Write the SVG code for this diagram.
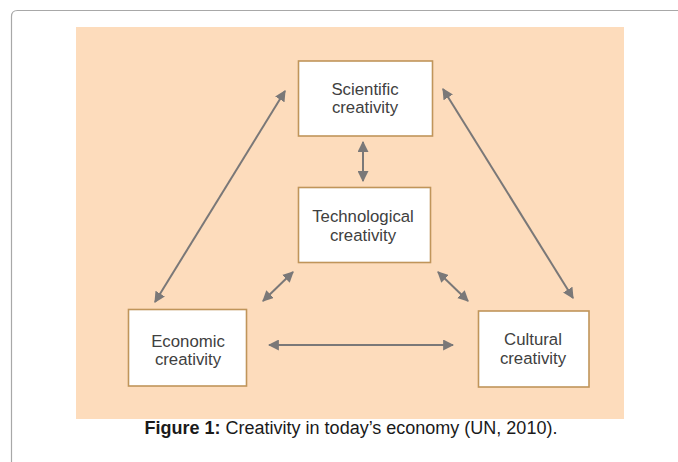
<svg xmlns="http://www.w3.org/2000/svg" width="678" height="462" viewBox="0 0 678 462">
<style>
.box{fill:#ffffff;stroke:#c0955a;stroke-width:1.6}
.lbl{font-family:"Liberation Sans",Arial,sans-serif;font-size:16.8px;fill:#404040;text-anchor:middle}
.conn{stroke:#7a7878;stroke-width:2;fill:none;marker-start:url(#ah);marker-end:url(#ah)}
.cap{font-family:"Liberation Sans",Arial,sans-serif;font-size:18px;fill:#1a1a1a}
</style>
<defs>
<marker id="ah" viewBox="0 0 10 10" refX="9" refY="5" markerWidth="11" markerHeight="11" markerUnits="userSpaceOnUse" orient="auto-start-reverse">
<path d="M0,0 L10,5 L0,10 z" fill="#7a7878"/>
</marker>
</defs>
<rect width="678" height="462" fill="#ffffff"/>
<path d="M11.5 462 V16.5 Q11.5 10.5 17.5 10.5 H678" fill="none" stroke="#a8a8a8" stroke-width="1.2"/>
<rect x="76" y="27" width="548" height="392" fill="#fddcbc"/>
<g id="connectors">
<line class="conn" x1="363" y1="142" x2="363" y2="181"/>
<line class="conn" x1="155" y1="302" x2="285" y2="91"/>
<line class="conn" x1="443" y1="89" x2="573" y2="298"/>
<line class="conn" x1="263" y1="301" x2="293" y2="272"/>
<line class="conn" x1="438" y1="272" x2="468" y2="301"/>
<line class="conn" x1="269" y1="345" x2="453" y2="345"/>
</g>
<g id="scientific">
<rect class="box" x="298.5" y="61" width="134" height="75"/>
<text class="lbl" x="365" y="95">Scientific</text>
<text class="lbl" x="365" y="113">creativity</text>
</g>
<g id="technological">
<rect class="box" x="298.5" y="187.5" width="132" height="75"/>
<text class="lbl" x="363" y="222">Technological</text>
<text class="lbl" x="363" y="241">creativity</text>
</g>
<g id="economic">
<rect class="box" x="128.5" y="309.5" width="118" height="76.5"/>
<text class="lbl" x="188" y="347">Economic</text>
<text class="lbl" x="188" y="365">creativity</text>
</g>
<g id="cultural">
<rect class="box" x="478.5" y="311" width="110.5" height="76"/>
<text class="lbl" x="533" y="345">Cultural</text>
<text class="lbl" x="533" y="364">creativity</text>
</g>
<text class="cap" x="351" y="434" text-anchor="middle"><tspan font-weight="bold">Figure 1:</tspan> Creativity in today’s economy (UN, 2010).</text>
</svg>
